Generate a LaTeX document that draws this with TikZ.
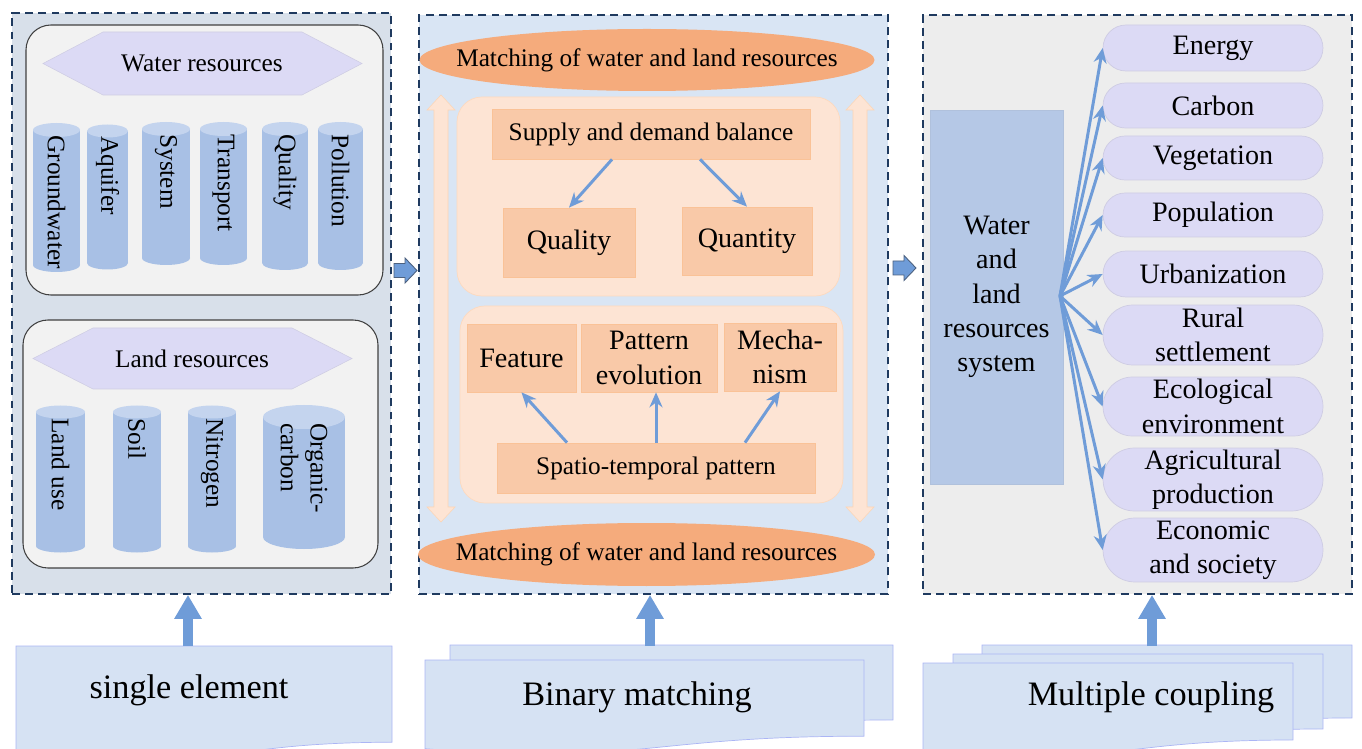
\documentclass[tikz,border=0pt]{standalone}
\usepackage{fontspec}
\setmainfont{Liberation Serif}
\usetikzlibrary{shapes.geometric, shapes.misc, arrows.meta}
\tikzset{>=stealth}
\definecolor{panelL}{HTML}{D8E0EA}
\definecolor{panelM}{HTML}{D9E5F4}
\definecolor{panelR}{HTML}{EDEDED}
\definecolor{dashblue}{HTML}{1F3A5F}
\definecolor{boxgray}{HTML}{F2F2F2}
\definecolor{cylbody}{HTML}{A8C0E5}
\definecolor{cyltop}{HTML}{C4D4EE}
\definecolor{lavender}{HTML}{DCDAF5}
\definecolor{peach}{HTML}{FDE4D4}
\definecolor{salmon}{HTML}{F9C9A8}
\definecolor{melon}{HTML}{F5AB7C}
\definecolor{arrowblue}{HTML}{6F9CD8}
\definecolor{sysblue}{HTML}{B5C8E6}
\definecolor{docblue}{HTML}{D6E2F3}

\begin{document}
\begin{tikzpicture}[x=0.02cm, y=-0.02cm,
    f14/.style={font=\fontsize{14.4}{17}\selectfont},
    f16/.style={font=\fontsize{16}{19.5}\selectfont},
    f19/.style={font=\fontsize{19.5}{22}\selectfont},
    panel/.style={draw=dashblue, line width=1.1pt, dash pattern=on 4.5pt off 3pt, inner sep=0pt},
    banner/.style={fill=lavender, draw=lavender!85!gray, line width=0.3pt},
    cyltext/.style={f14, align=left, inner sep=0pt},
    sbox/.style={fill=salmon, draw=salmon!90!orange, line width=0.4pt, inner sep=0pt, align=center},
    pill/.style={rounded rectangle, fill=lavender, draw=lavender!85!gray, line width=0.4pt, minimum width=4.4cm, inner sep=0pt, align=center, f16},
    thinarrow/.style={draw=arrowblue, line width=1.7pt, -{Stealth[length=0.3cm, width=0.26cm]}},
    uparrow/.style={draw=arrowblue, line width=0.19cm, -{Triangle[width=0.52cm, length=0.48cm]}},
    doc/.style={fill=docblue, draw=docblue!80!blue, line width=0.4pt}]
    \useasboundingbox (0,0) rectangle (1362,749);

    \node[panel, fill=panelL, minimum width=7.58cm, minimum height=11.62cm] (p1) at (201.5,303.5) {};
    \draw[fill=boxgray, draw=black!75, line width=0.6pt, rounded corners=0.5cm] (26,25) rectangle (383,295);
    \draw[fill=boxgray, draw=black!75, line width=0.6pt, rounded corners=0.5cm] (23,320) rectangle (378,568);
    \filldraw[banner] (43,63.5) -- (103,32) -- (302,32) -- (362,63.5) -- (302,95) -- (103,95) -- cycle;
    \node[f14] (water) at (202,63.5) {Water resources};
    \filldraw[banner] (33,358.5) -- (93,328) -- (292,328) -- (352,358.5) -- (292,389) -- (93,389) -- cycle;
    \node[f14] (land) at (192,358.5) {Land resources};
    \foreach \cx/\rx/\tc/\bc/\ry/\txt [count=\i] in {56.5/23.5/130/265/7/Groundwater, 107.5/20.5/131/263/6.5/Aquifer, 166/24/129/258/7/System, 223.5/23.5/129/258/7/Transport, 285/23/129/263/7/Quality, 340.5/22.5/129/263/7/Pollution}
    {
    \fill[cylbody] (\cx-\rx,\tc) rectangle (\cx+\rx,\bc);
    \fill[cylbody] (\cx,\bc) ellipse [x radius=\rx, y radius=\ry];
    \fill[cyltop] (\cx,\tc) ellipse [x radius=\rx, y radius=\ry];
    \node[cyltext, anchor=west, rotate=-90] (w\i) at (\cx,\tc+5) {\txt};
    }
    \foreach \cx/\rx/\tc/\bc/\ry/\txt [count=\i] in {60.5/24.5/412/546/6.5/Land use, 137/24/412/546/6.5/Soil, 212/24/412/546/6.5/Nitrogen, 304/41/417/537/12/{Organic-\\carbon}}
    {
    \fill[cylbody] (\cx-\rx,\tc) rectangle (\cx+\rx,\bc);
    \fill[cylbody] (\cx,\bc) ellipse [x radius=\rx, y radius=\ry];
    \fill[cyltop] (\cx,\tc) ellipse [x radius=\rx, y radius=\ry];
    \node[cyltext, anchor=west, rotate=-90] (l\i) at (\cx,\tc+6) {\txt};
    }

    \node[panel, fill=panelM, minimum width=9.38cm, minimum height=11.58cm] (p2) at (653.5,304.5) {};
    \foreach \cx in {441,860}
    \filldraw[fill=peach, draw=peach!85!orange, line width=0.3pt] (\cx,95) -- (\cx+14,110) -- (\cx+7,110) -- (\cx+7,507) -- (\cx+14,507) -- (\cx,522) -- (\cx-14,507) -- (\cx-7,507) -- (\cx-7,110) -- (\cx-14,110) -- cycle;
    \fill[melon] (647,60) ellipse [x radius=227.5, y radius=31];
    \node[f14] (mtop) at (647,60) {Matching of water and land resources};
    \fill[melon] (646.5,554.5) ellipse [x radius=228.5, y radius=31.5];
    \node[f14] (mbot) at (646.5,554.5) {Matching of water and land resources};
    \draw[fill=peach, draw=peach!90!orange, line width=0.4pt, rounded corners=0.5cm] (457,97) rectangle (840,296);
    \draw[fill=peach, draw=peach!90!orange, line width=0.4pt, rounded corners=0.5cm] (460,306) rectangle (843,503);
    \node[sbox, minimum width=6.36cm, minimum height=1cm, f14] (supply) at (651,134) {Supply and demand balance};
    \node[sbox, minimum width=2.64cm, minimum height=1.38cm, f16] (quality) at (569,242.5) {Quality};
    \node[sbox, minimum width=2.6cm, minimum height=1.36cm, f16] (quantity) at (747,241) {Quantity};
    \draw[thinarrow] ([xshift=-0.78cm]supply.south) -- (quality.north);
    \draw[thinarrow] ([xshift=0.98cm]supply.south) -- (quantity.north);
    \node[sbox, minimum width=2.18cm, minimum height=1.36cm, f16] (feature) at (521.5,358) {Feature};
    \node[sbox, minimum width=2.72cm, minimum height=1.36cm, f16] (pattern) at (649,358) {Pattern\\evolution};
    \node[sbox, minimum width=2.24cm, minimum height=1.36cm, f16] (mech) at (780,357) {Mecha-\\nism};
    \node[sbox, minimum width=6.36cm, minimum height=1cm, f14] (spatio) at (656,468) {Spatio-temporal pattern};
    \draw[thinarrow] ([xshift=-1.78cm]spatio.north) -- (feature.south);
    \draw[thinarrow] (spatio.north) -- (spatio.north |- pattern.south);
    \draw[thinarrow] ([xshift=1.78cm]spatio.north) -- (mech.south);

    \node[panel, fill=panelR, minimum width=8.58cm, minimum height=11.58cm] (p3) at (1137.5,304.5) {};
    \node[fill=sysblue, draw=sysblue!90!gray, line width=0.4pt, minimum width=2.66cm, minimum height=7.48cm, align=center, f16] (wls) at (996.5,297) {Water\\and\\land\\resources\\system};
    \coordinate (hub) at (1060,296);
    \foreach \n/\y/\h/\txt in {energy/48/0.92/Energy, carbon/105.5/0.9/Carbon, veg/158/0.88/Vegetation, pop/215/0.88/Population, urban/274/0.92/Urbanization, rural/335/1.2/{Rural\\settlement}, eco/406.5/1.18/{Ecological\\environment}, agri/479.5/1.26/{Agricultural\\production}, econ/550/1.28/{Economic\\and society}}
    {
    \node[pill, minimum height=\h cm] (\n) at (1213,\y) {\txt};
    \draw[thinarrow] (hub) -- (\n.west);
    }

    \foreach \x/\y in {394/270.5, 893/268}
    \filldraw[fill=arrowblue, draw=dashblue!80, line width=0.5pt] (\x,\y-7) -- (\x+11,\y-7) -- (\x+11,\y-12.5) -- (\x+23,\y) -- (\x+11,\y+12.5) -- (\x+11,\y+7) -- (\x,\y+7) -- cycle;

    \begin{scope}
    \clip (0,0) rectangle (1362,749);
    \foreach \a/\b/\t/\h in {16/392/646/120, 450/893/645/93.5, 425/864/660/95, 982/1352/645/91, 953/1323/654/93.5, 923/1293/663/96}
    \filldraw[doc] (\a,\t) -- (\b,\t) -- (\b,\t+0.802*\h) .. controls ({(\a+\b)/2},\t+0.802*\h) and ({(\a+\b)/2},\t+1.108*\h) .. (\a,\t+0.934*\h) -- cycle;
    \end{scope}
    \node[f19] (single) at (189,690) {single element};
    \node[f19] (binary) at (637,697) {Binary matching};
    \node[f19] (multi) at (1151,697) {Multiple coupling};
    \foreach \x/\p [count=\i] in {188/p1, 650/p2, 1152/p3}
    {
    \coordinate (s\i) at (\x,646);
    \draw[uparrow] (s\i) -- (s\i |- \p.south);
    }
\end{tikzpicture}
\end{document}
